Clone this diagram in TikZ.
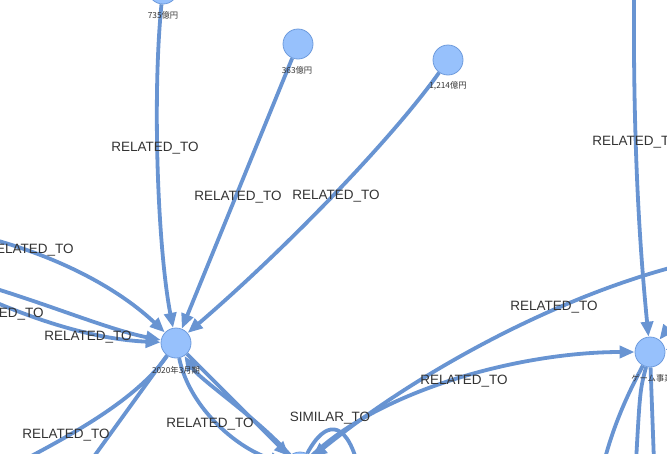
\documentclass[tikz,border=0pt]{standalone}
\usepackage{fontspec}
\setmainfont{Liberation Sans}
\newfontfamily\cjk{Noto Sans CJK JP}
\usetikzlibrary{arrows.meta}
\definecolor{edgec}{RGB}{104,148,210}
\definecolor{nodefill}{RGB}{151,193,252}
\definecolor{nodeline}{RGB}{110,155,220}
\definecolor{txt}{RGB}{51,51,51}
\pgfdeclarelayer{bg}
\pgfsetlayers{bg,main}
\begin{document}
\begin{tikzpicture}[x=1pt,y=-1pt,
  gnode/.style={circle, fill=nodefill, draw=nodeline, line width=0.8pt, minimum size=30pt, inner sep=0pt},
  edge/.style={draw=edgec, line width=3.8pt, -{Triangle[length=15pt,width=12pt]}},
  plain/.style={draw=edgec, line width=3.8pt},
  elabel/.style={font=\fontsize{13.5}{15}\selectfont, text=txt, inner sep=0pt},
  nlabel/.style={font=\cjk\fontsize{8.3}{9}\selectfont, text=txt, inner sep=0pt}]
\useasboundingbox (0,0) rectangle (667,453);
\clip (0,0) rectangle (667,453);
% nodes
\node[gnode] (v735) at (163,-11) {};
\node[gnode] (v363) at (298,44) {};
\node[gnode] (v1214) at (448,60) {};
\node[gnode] (v2020) at (176,343) {};
\node[gnode] (vgame) at (650,352) {};
\node[gnode] (vbot) at (300,467) {};
\node[nlabel] (l735) at (163,15) {735億円};
\node[nlabel] (l363) at (297,70) {363億円};
\node[nlabel] (l1214) at (448,86) {1,214億円};
\node[nlabel] (l2020) at (176,370) {2020年3月期};
\node[nlabel] (lgame) at (652,378) {ゲーム事業};
% off-picture ends
\coordinate (oL1) at (-20,236);
\coordinate (oL2) at (-10,287);
\coordinate (oL3) at (-10,300);
\coordinate (oBL1) at (20,462);
\coordinate (oBL2) at (90,462);
\coordinate (oR1) at (685,264);
\coordinate (oT) at (634,-8);
\coordinate (oR2) at (690,300);
\coordinate (oR3) at (695,345);
\coordinate (oB1) at (604,462);
\coordinate (oB2) at (636,462);
\coordinate (oB3) at (654,462);
\coordinate (oS) at (357,462);
\begin{pgfonlayer}{bg}
\draw[edge] (v735) .. controls (152,100) and (158,250) .. (v2020);
\draw[edge] (v363) -- (v2020);
\draw[edge] (v1214) .. controls (395,135) and (290,245) .. (v2020);
\draw[edge] (oL1) .. controls (60,256) and (120,290) .. (v2020);
\draw[edge] (oL2) .. controls (50,305) and (110,330) .. (v2020);
\draw[edge] (oL3) .. controls (60,330) and (110,340) .. (v2020);
\draw[plain] (v2020) .. controls (140,395) and (85,428) .. (oBL1);
\draw[plain] (v2020) -- (oBL2);
\draw[edge] (v2020) .. controls (190,410) and (240,450) .. (vbot);
\draw[edge] (vbot) .. controls (260,420) and (200,380) .. (v2020);
\draw[edge] (v2020) -- (vbot);
\draw[edge] (vbot) .. controls (380,390) and (520,352) .. (vgame);
\draw[edge] (oR1) .. controls (560,295) and (420,370) .. (vbot);
\draw[plain] (vbot) .. controls (325,420) and (345,420) .. (oS);
\draw[edge] (oT) .. controls (633,150) and (640,250) .. (vgame);
\draw[edge] (oR2) -- (vgame);
\draw[edge] (oR3) -- (vgame);
\draw[plain] (vgame) .. controls (630,390) and (615,420) .. (oB1);
\draw[plain] (vgame) .. controls (640,390) .. (oB2);
\draw[plain] (vgame) -- (oB3);
\end{pgfonlayer}
% edge labels
\node[elabel] (t1) at (155,148) {RELATED\_TO};
\node[elabel] (t2) at (238,197) {RELATED\_TO};
\node[elabel] (t3) at (336,196) {RELATED\_TO};
\node[elabel] (t4) at (30,250) {RELATED\_TO};
\node[elabel] (t5) at (0,314) {RELATED\_TO};
\node[elabel] (t6) at (88,337) {RELATED\_TO};
\node[elabel] (t7) at (66,435) {RELATED\_TO};
\node[elabel] (t8) at (210,424) {RELATED\_TO};
\node[elabel] (t9) at (330,418) {SIMILAR\_TO};
\node[elabel] (t10) at (464,381) {RELATED\_TO};
\node[elabel] (t11) at (554,307) {RELATED\_TO};
\node[elabel] (t12) at (636,142) {RELATED\_TO};
\end{tikzpicture}
\end{document}
